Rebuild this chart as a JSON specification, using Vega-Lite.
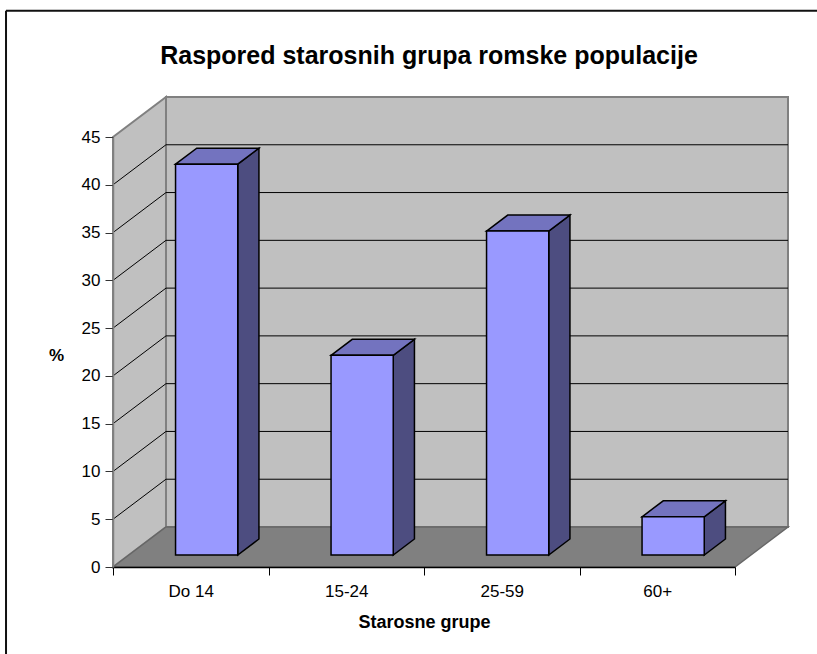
{"$schema":"https://vega.github.io/schema/vega-lite/v6.json","width":622,"height":430,"autosize":{"type":"none"},"padding":{"left":113,"top":137,"right":82,"bottom":87},"background":"white","config":{"view":{"stroke":null},"font":"Liberation Sans"},"title":{"text":"Raspored starosnih grupa romske populacije","font":"Liberation Sans","fontSize":25,"fontWeight":"bold","color":"#000","anchor":"middle","frame":"group","dx":5,"offset":-59},"data":{"values":[{"group":"Do 14","value":40.9},{"group":"15-24","value":20.9},{"group":"25-59","value":33.9},{"group":"60+","value":4}]},"resolve":{"scale":{"x":"independent"},"axis":{"y":"independent"}},"layer":[{"transform":[{"window":[{"op":"row_number","as":"n"}]},{"calculate":"datum.n-1","as":"index"}],"layer":[{"data":{"values":[{"e":0}]},"mark":{"type":"rule","stroke":"#111","strokeWidth":2},"encoding":{"x":{"datum":-0.688,"type":"quantitative","scale":{"domain":[0,4]},"axis":null},"x2":{"datum":4.6},"y":{"datum":58.2,"type":"quantitative","scale":{"domain":[0,45],"nice":false},"axis":null}}},{"data":{"values":[{"e":0}]},"mark":{"type":"rule","stroke":"#111","strokeWidth":2},"encoding":{"x":{"datum":-0.688,"type":"quantitative","axis":null},"y":{"datum":58.2,"type":"quantitative","axis":null},"y2":{"datum":-9.2}}},{"data":{"values":[{"e":0}]},"mark":{"type":"rect","fill":"#C0C0C0","stroke":"#808080","strokeWidth":2},"encoding":{"x":{"datum":0.3408,"type":"quantitative","axis":null},"x2":{"datum":4.3408},"y":{"datum":4.186,"type":"quantitative","axis":null},"y2":{"datum":49.186}}},{"data":{"values":[{"x":0,"lo":0,"hi":45},{"x":0.3408,"lo":4.186,"hi":49.186}]},"mark":{"type":"area","fill":"#C0C0C0","stroke":"#808080","strokeWidth":2},"encoding":{"x":{"field":"x","type":"quantitative","axis":null},"y":{"field":"hi","type":"quantitative","axis":null},"y2":{"field":"lo"}}},{"data":{"values":[{"x":0,"lo":0,"hi":0},{"x":0.3408,"lo":0,"hi":4.186},{"x":4,"lo":0,"hi":4.186},{"x":4.3408,"lo":4.186,"hi":4.186}]},"mark":{"type":"area","fill":"#808080","stroke":"#666666","strokeWidth":1.5},"encoding":{"x":{"field":"x","type":"quantitative","axis":null},"y":{"field":"hi","type":"quantitative","axis":null},"y2":{"field":"lo"}}},{"data":{"values":[{"tick":5},{"tick":10},{"tick":15},{"tick":20},{"tick":25},{"tick":30},{"tick":35},{"tick":40}]},"transform":[{"calculate":"datum.tick+4.186","as":"back"}],"layer":[{"mark":{"type":"rule","stroke":"#000","strokeWidth":1},"encoding":{"x":{"datum":0.3408,"type":"quantitative","axis":null},"x2":{"datum":4.3408},"y":{"field":"back","type":"quantitative","axis":null}}},{"mark":{"type":"rule","stroke":"#000","strokeWidth":1},"encoding":{"x":{"datum":0,"type":"quantitative","axis":null},"x2":{"datum":0.3408},"y":{"field":"tick","type":"quantitative","axis":null},"y2":{"field":"back"}}}]},{"transform":[{"calculate":"[0,1]","as":"t"},{"flatten":["t"]},{"calculate":"datum.index+0.7+0.3408*(0.3+0.4*datum.t)","as":"px"},{"calculate":"4.186*(0.3+0.4*datum.t)","as":"lo"},{"calculate":"datum.value+datum.lo","as":"hi"}],"mark":{"type":"area","fill":"#4D4D80","stroke":"#000","strokeWidth":1.5},"encoding":{"detail":{"field":"group"},"x":{"field":"px","type":"quantitative","axis":null},"y":{"field":"hi","type":"quantitative","axis":null},"y2":{"field":"lo"}}},{"transform":[{"calculate":"[0,1,2,3]","as":"t"},{"flatten":["t"]},{"calculate":"datum.index+[0.3+0.3*0.3408,0.3+0.7*0.3408,0.7+0.3*0.3408,0.7+0.7*0.3408][datum.t]","as":"px"},{"calculate":"datum.value+4.186*[0.3,0.3,0.3,0.7][datum.t]","as":"lo"},{"calculate":"datum.value+4.186*[0.3,0.7,0.7,0.7][datum.t]","as":"hi"}],"mark":{"type":"area","fill":"#7373BF","stroke":"#000","strokeWidth":1.5},"encoding":{"detail":{"field":"group"},"x":{"field":"px","type":"quantitative","axis":null},"y":{"field":"hi","type":"quantitative","axis":null},"y2":{"field":"lo"}}},{"transform":[{"calculate":"datum.index+0.3+0.3*0.3408","as":"x0"},{"calculate":"datum.index+0.7+0.3*0.3408","as":"x1"},{"calculate":"0.3*4.186","as":"y0"},{"calculate":"datum.value+datum.y0","as":"y1"}],"mark":{"type":"rect","fill":"#9999FF","stroke":"#000","strokeWidth":1.5},"encoding":{"x":{"field":"x0","type":"quantitative","axis":null},"x2":{"field":"x1"},"y":{"field":"y0","type":"quantitative","axis":null},"y2":{"field":"y1"}}}]},{"mark":{"type":"point","opacity":0},"encoding":{"x":{"field":"group","type":"nominal","sort":null,"scale":{"type":"band","paddingInner":0,"paddingOuter":0},"axis":{"title":"Starosne grupe","titleFont":"Liberation Sans","titleFontSize":18,"titleFontWeight":"bold","titleColor":"#000","titlePadding":14,"labelFont":"Liberation Sans","labelFontSize":17,"labelColor":"#000","labelAngle":0,"labelPadding":8,"tickBand":"extent","tickSize":8,"tickColor":"#000","domainColor":"#000","domainWidth":1.5,"zindex":1}},"y":{"field":"value","type":"quantitative","scale":{"domain":[0,45],"nice":false},"axis":{"values":[0,5,10,15,20,25,30,35,40,45],"grid":false,"title":"%","titleAngle":0,"titleFont":"Liberation Sans","titleFontSize":17,"titleFontWeight":"bold","titleColor":"#000","titleX":-57,"titleY":227,"labelFont":"Liberation Sans","labelFontSize":17,"labelColor":"#000","labelPadding":5,"tickSize":8,"tickColor":"#333","domainColor":"#808080","domainWidth":1.5,"zindex":1}}}}]}
